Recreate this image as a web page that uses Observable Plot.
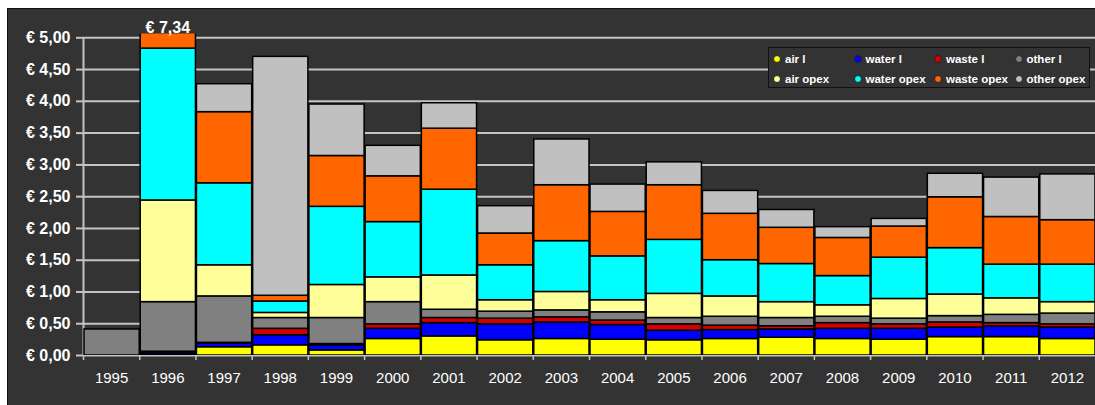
<!DOCTYPE html>
<html>
<head>
<meta charset="utf-8">
<script src="https://cdn.jsdelivr.net/npm/d3@7"></script>
<script src="https://cdn.jsdelivr.net/npm/@observablehq/plot@0.6"></script>
<style>
  html, body { margin: 0; padding: 0; background: #fff; }
  #wrap { position: relative; width: 1095px; height: 405px; overflow: hidden;
          font-family: "Liberation Sans", Arial, sans-serif; }
  #panel { position: absolute; left: 7px; top: 8px; right: -3px; bottom: -3px;
           background: #333; border: 1px solid #111; }
  #chart { position: absolute; left: 0; top: 0; }
  #legend { position: absolute; left: 768px; top: 47px; width: 322px; height: 41px;
            box-sizing: border-box; border: 1px solid #111; background: #333;
            display: grid; grid-template-columns: repeat(4, 80.5px); grid-auto-rows: 20px;
            padding: 1px 0 0 4px; }
  .item { display: flex; align-items: center; color: #fff; font-size: 11.5px; font-weight: bold;
          white-space: nowrap; }
  .dot { width: 6px; height: 6px; border-radius: 50%; border: 1px solid #222;
         margin-right: 4px; flex: none; }
</style>
</head>
<body>
<div id="wrap">
  <div id="panel"></div>
  <div id="chart"></div>
  <div id="legend"></div>
</div>
<script>
// Cost per year, split by environmental theme (levies "l" and operating expenses "opex")
const years = [1995, 1996, 1997, 1998, 1999, 2000, 2001, 2002, 2003, 2004, 2005, 2006, 2007, 2008, 2009, 2010, 2011, 2012];

const series = ["air l", "water l", "waste l", "other l", "air opex", "water opex", "waste opex", "other opex"];
const colors = ["#ffff00", "#0000ff", "#d40000", "#808080", "#ffff99", "#00ffff", "#ff6600", "#c0c0c0"];

const airL      = [0, 0.02, 0.13, 0.16, 0.08, 0.26, 0.30, 0.24, 0.26, 0.25, 0.24, 0.26, 0.28, 0.26, 0.25, 0.29, 0.29, 0.26];
const waterL    = [0, 0.03, 0.06, 0.16, 0.08, 0.16, 0.21, 0.25, 0.26, 0.23, 0.15, 0.14, 0.13, 0.16, 0.17, 0.15, 0.17, 0.18];
const wasteL    = [0, 0.01, 0.01, 0.10, 0.02, 0.07, 0.08, 0.09, 0.08, 0.07, 0.10, 0.07, 0.05, 0.09, 0.07, 0.08, 0.05, 0.05];
const otherL    = [0.41, 0.78, 0.73, 0.17, 0.41, 0.35, 0.13, 0.11, 0.11, 0.13, 0.10, 0.14, 0.13, 0.10, 0.09, 0.10, 0.13, 0.17];
const airOpex   = [0, 1.60, 0.49, 0.08, 0.52, 0.39, 0.54, 0.18, 0.29, 0.19, 0.38, 0.32, 0.25, 0.18, 0.31, 0.34, 0.26, 0.18];
const waterOpex = [0, 2.39, 1.29, 0.18, 1.23, 0.87, 1.35, 0.55, 0.80, 0.69, 0.85, 0.57, 0.60, 0.46, 0.65, 0.73, 0.53, 0.59];
const wasteOpex = [0, 1.30, 1.12, 0.09, 0.80, 0.72, 0.96, 0.50, 0.88, 0.70, 0.86, 0.73, 0.57, 0.60, 0.49, 0.80, 0.75, 0.70];
const otherOpex = [0, 1.21, 0.44, 3.76, 0.81, 0.48, 0.40, 0.43, 0.72, 0.43, 0.36, 0.36, 0.28, 0.17, 0.12, 0.37, 0.62, 0.72];

const yTicks = [0, 0.5, 1, 1.5, 2, 2.5, 3, 3.5, 4, 4.5, 5];
const yMax = 5.06;

const valuesBySeries = [airL, waterL, wasteL, otherL, airOpex, waterOpex, wasteOpex, otherOpex];

// long table, series-major so each year stacks in series order
const rows = [];
series.forEach((s, i) => {
  years.forEach((year, j) => {
    const value = valuesBySeries[i][j];
    if (value > 0) rows.push({year, series: s, value});
  });
});

// totals that run off the top of the axis get their value written above the bar
const totals = years.map((year, j) => ({year, total: d3.sum(valuesBySeries, v => v[j])}));
const over = totals.filter(d => d.total > yMax);

const euro = v => "€ " + v.toFixed(2).replace(".", ",");
const grid = "#c4c4c4";
const font = '"Liberation Sans", Arial, sans-serif';

const chart = Plot.plot({
  width: 1095,
  height: 405,
  marginLeft: 83,
  marginRight: 0,
  marginTop: 33.5,
  marginBottom: 50,
  style: {background: "transparent", color: "#fff", fontFamily: font, overflow: "visible"},
  x: {domain: [years[0], years[years.length - 1] + 1]},
  y: {domain: [0, yMax]},
  color: {domain: series, range: colors},
  marks: [
    Plot.ruleY(yTicks, {stroke: grid, strokeWidth: 2}),
    Plot.ruleX([years[0]], {y1: 0, y2: yTicks[yTicks.length - 1], stroke: grid, strokeWidth: 2}),
    Plot.axisY(yTicks, {tickSize: 7, tickPadding: 6, stroke: grid, strokeWidth: 2, fill: "#fff",
                        tickFormat: euro, fontSize: 16, fontWeight: "bold", label: null}),
    Plot.axisX(years, {tickSize: 5, stroke: grid, strokeWidth: 1.5, tickFormat: () => "", label: null}),
    Plot.axisX(years.map(y => y + 0.5), {tickSize: 0, tickPadding: 17, fill: "#fff",
                        tickFormat: d => String(d - 0.5), fontSize: 15, label: null}),
    Plot.rectY(rows, {x: "year", interval: 1, y: "value", fill: "series",
                      stroke: "#000", strokeWidth: 1.5, clip: true}),
    Plot.text(over, {x: d => d.year + 0.5, frameAnchor: "top", dy: -12, text: d => euro(d.total),
                     fill: "#fff", fontSize: 16, fontWeight: "bold"})
  ]
});
document.getElementById("chart").appendChild(chart);

// two-row legend: levies on top, opex below
const legend = document.getElementById("legend");
series.forEach((s, i) => {
  const item = document.createElement("div");
  item.className = "item";
  const dot = document.createElement("span");
  dot.className = "dot";
  dot.style.background = colors[i];
  item.appendChild(dot);
  item.appendChild(document.createTextNode(s));
  legend.appendChild(item);
});
</script>
</body>
</html>
